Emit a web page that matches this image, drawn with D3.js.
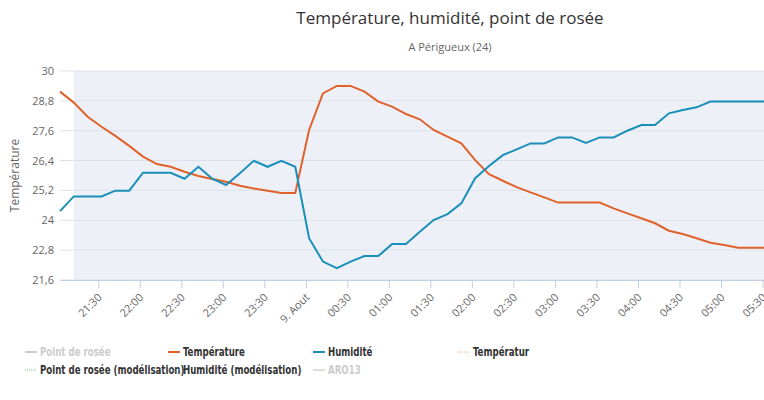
<!DOCTYPE html>
<html><head><meta charset="utf-8">
<script src="https://cdn.jsdelivr.net/npm/d3@7"></script>
<style>body{margin:0;background:#fff;font-family:"Open Sans",sans-serif}</style>
</head><body><svg id="chart" width="764" height="400"></svg>
<script>
// 10-minute readings starting 8 Aug 21:02
var startTime = new Date(2015, 7, 8, 21, 2);
var endTime = new Date(2015, 7, 9, 5, 30);
var temperature = [29.17,28.73,28.16,27.76,27.39,26.99,26.56,26.26,26.15,25.95,25.78,25.66,25.55,25.39,25.28,25.19,25.10,25.10,27.63,29.10,29.40,29.40,29.17,28.77,28.57,28.27,28.06,27.63,27.36,27.09,26.42,25.85,25.59,25.33,25.12,24.92,24.71,24.71,24.71,24.71,24.48,24.28,24.08,23.88,23.58,23.45,23.28,23.10,23.01,22.90,22.90,22.90];
var humidity = [24.37,24.96,24.96,24.96,25.19,25.19,25.91,25.91,25.91,25.67,26.15,25.67,25.42,25.89,26.39,26.15,26.39,26.15,23.28,22.34,22.08,22.34,22.56,22.56,23.05,23.05,23.54,24.01,24.25,24.68,25.69,26.18,26.62,26.85,27.09,27.09,27.33,27.33,27.11,27.33,27.33,27.60,27.83,27.83,28.30,28.43,28.54,28.77,28.77,28.77,28.77,28.77];
var yTicks = [21.6,22.8,24,25.2,26.4,27.6,28.8,30];
var legendItems = [
  {name:"Point de rosée", color:"#cccccc", dash:null, off:true},
  {name:"Température", color:"#e0622a", dash:null},
  {name:"Humidité", color:"#1a8fba", dash:null},
  {name:"Températur", color:"#f0b58a", dash:"1,1"},
  {name:"Point de rosée (modélisation)", color:"#7fc68a", dash:"1,1"},
  {name:"Humidité (modélisation)", color:"#7fc3e0", dash:"1,1"},
  {name:"ARO13", color:"#dddddd", dash:null, off:true}
];

var svg = d3.select("#chart");
var m = {l:60, r:764, t:71, b:280};
var stepMs = 10*60000;
var times = temperature.map(function(d,i){ return new Date(+startTime + i*stepMs); });

var x = d3.scaleTime().domain([startTime, endTime]).range([m.l, 763]);
var y = d3.scaleLinear().domain([21.6,30]).range([m.b, m.t]);

// plot band
svg.append("rect")
  .attr("x", x(times[1])).attr("y", m.t)
  .attr("width", m.r - x(times[1])).attr("height", m.b - m.t)
  .attr("fill", "#edf0f7");

// grid
svg.selectAll(".grid").data(yTicks).enter().append("line")
  .attr("x1", m.l).attr("x2", m.r)
  .attr("y1", function(d){ return y(d); }).attr("y2", function(d){ return y(d); })
  .attr("stroke", "#dde1ea");

svg.selectAll(".ylab").data(yTicks).enter().append("text")
  .attr("x", 54).attr("y", function(d){ return y(d) + 4; })
  .attr("text-anchor", "end").attr("font-size", 11).attr("fill", "#666")
  .text(function(d){ return String(d).replace(".", ","); });

svg.append("text").attr("transform", "translate(19," + ((m.t+m.b)/2) + ") rotate(-90)")
  .attr("text-anchor", "middle").attr("font-size", 12).attr("fill", "#666")
  .text("Température");

// x axis
svg.append("line").attr("x1", m.l).attr("x2", m.r).attr("y1", m.b + 0.5).attr("y2", m.b + 0.5)
  .attr("stroke", "#c0d0e0");
var xt = x.ticks(d3.timeMinute.every(30));
var xg = svg.selectAll(".xt").data(xt).enter().append("g")
  .attr("transform", function(d){ return "translate(" + x(d) + "," + m.b + ")"; });
xg.append("line").attr("y1", 0).attr("y2", 8).attr("stroke", "#c0d0e0");
xg.append("text").attr("transform", "translate(4,18) rotate(-45)")
  .attr("text-anchor", "end").attr("font-size", 11).attr("fill", "#666")
  .text(function(d){
    return (d.getHours() === 0 && d.getMinutes() === 0) ? "9. Aout" : d3.timeFormat("%H:%M")(d);
  });

// lines
var line = function(vals){
  return d3.line().x(function(d,i){ return x(times[i]); }).y(function(d){ return y(d); })(vals);
};
svg.append("path").attr("d", line(temperature)).attr("fill", "none")
  .attr("stroke", "#e0622a").attr("stroke-width", 2);
svg.append("path").attr("d", line(humidity)).attr("fill", "none")
  .attr("stroke", "#1a8fba").attr("stroke-width", 2);

// title
svg.append("text").attr("x", 450).attr("y", 24).attr("text-anchor", "middle")
  .attr("font-size", 17).attr("fill", "#333").text("Température, humidité, point de rosée");
svg.append("text").attr("x", 450).attr("y", 51).attr("text-anchor", "middle")
  .attr("font-size", 11).attr("fill", "#666").text("A Périgueux (24)");

// legend
var colX = [25, 168, 313, 458];
var lg = svg.selectAll(".lg").data(legendItems).enter().append("g")
  .attr("transform", function(d,i){ return "translate(" + colX[i % 4] + "," + (352 + Math.floor(i/4)*18) + ")"; });
lg.append("line").attr("x1", 0).attr("x2", 12).attr("y1", 0).attr("y2", 0)
  .attr("stroke", function(d){ return d.color; })
  .attr("stroke-width", function(d){ return d.dash ? 1 : 2; })
  .attr("stroke-dasharray", function(d){ return d.dash; });
lg.append("text").attr("transform", "translate(15,4) scale(0.8,1)").attr("font-size", 12)
  .attr("font-family", "'DejaVu Sans Condensed','Liberation Sans Narrow',sans-serif")
  .attr("font-weight", "bold")
  .attr("fill", function(d){ return d.off ? "#cccccc" : "#333"; })
  .text(function(d){ return d.name; });
</script></body></html>
